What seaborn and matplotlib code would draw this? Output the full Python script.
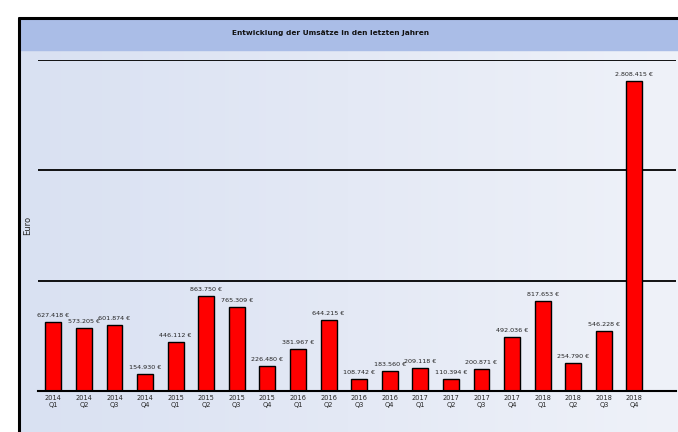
import numpy as np
import pandas as pd
import matplotlib
matplotlib.use("Agg")
import matplotlib.pyplot as plt
from matplotlib.patches import Rectangle
import seaborn as sns

# Periods and turnover per period (EUR)
years = ["2014", "2014", "2014", "2014", "2015", "2015", "2015", "2015", "2016", "2016",
         "2016", "2016", "2017", "2017", "2017", "2017", "2018", "2018", "2018", "2018"]
quarters = ["Q1", "Q2", "Q3", "Q4", "Q1", "Q2", "Q3", "Q4", "Q1", "Q2",
            "Q3", "Q4", "Q1", "Q2", "Q3", "Q4", "Q1", "Q2", "Q3", "Q4"]
umsatz = [627418, 573205, 601874, 154930, 446112, 863750, 765309, 226480, 381967, 644215,
          108742, 183560, 209118, 110394, 200871, 492036, 817653, 254790, 546228, 2808415]

title = "Entwicklung der Umsätze in den letzten Jahren"
ylabel = "Euro"

labels = [f"{y}\n{q}" for y, q in zip(years, quarters)]
df = pd.DataFrame({"periode": labels, "umsatz": umsatz})

sns.set_theme(style="white")
plt.rcParams["font.family"] = ["DejaVu Sans"]

W, H = 678, 432
fig = plt.figure(figsize=(W / 100, H / 100), dpi=100)
fig.patch.set_facecolor("white")

# Framed chart area with a soft blue gradient and a title band
bg = fig.add_axes([19 / W, 0, 1 - 19 / W, 1 - 18 / H])
grad = np.linspace(0, 1, 256)[None, :]
cmap = matplotlib.colors.LinearSegmentedColormap.from_list("bg", ["#d9e1f2", "#e4e9f5", "#eff2f9"])
bg.imshow(grad, aspect="auto", cmap=cmap, extent=[0, 1, 0, 1], zorder=0)
bg.add_patch(Rectangle((0, 1 - 32 / 414), 1, 32 / 414, color="#aabde7", zorder=1))
bg.set_xlim(0, 1)
bg.set_ylim(0, 1)
bg.axis("off")
fig.add_artist(plt.Line2D([19 / W, 19 / W], [0, 1 - 18 / H], color="black", lw=2.2))
fig.add_artist(plt.Line2D([19 / W, 1], [1 - 18 / H, 1 - 18 / H], color="black", lw=2.2))

fig.text(330 / W, 1 - 33 / H, title, ha="center", va="center", fontsize=5.3,
         fontweight="bold", color="#111111")

ax = fig.add_axes([38 / W, 41 / H, 638 / W, 331 / H])
ax.patch.set_alpha(0)
sns.barplot(data=df, x="periode", y="umsatz", color="#ff0000", edgecolor="black",
            linewidth=1.0, width=0.52, saturation=1, ax=ax)

ax.set_ylim(0, 3_000_000)
ax.set_xlim(-0.5, 20.36)
ax.set_yticks([0, 1_000_000, 2_000_000, 3_000_000])
ax.set_yticklabels([])
ax.tick_params(axis="y", length=0)
ax.tick_params(axis="x", length=0, labelsize=4.8, pad=3)
ax.yaxis.grid(True, color="black", lw=1.3)
ax.set_axisbelow(True)
for s in ["top", "right", "left"]:
    ax.spines[s].set_visible(False)
ax.spines["bottom"].set_color("black")
ax.spines["bottom"].set_linewidth(1.5)
ax.set_xlabel("")
ax.set_ylabel(ylabel, fontsize=6, labelpad=1)


def fmt(v):
    return f"{v:,.0f}".replace(",", ".") + " €"


for i, v in enumerate(umsatz):
    ax.text(i, v + 35000, fmt(v), ha="center", va="bottom", fontsize=4.6, color="#222222")

fig.savefig("out.png", dpi=100)
